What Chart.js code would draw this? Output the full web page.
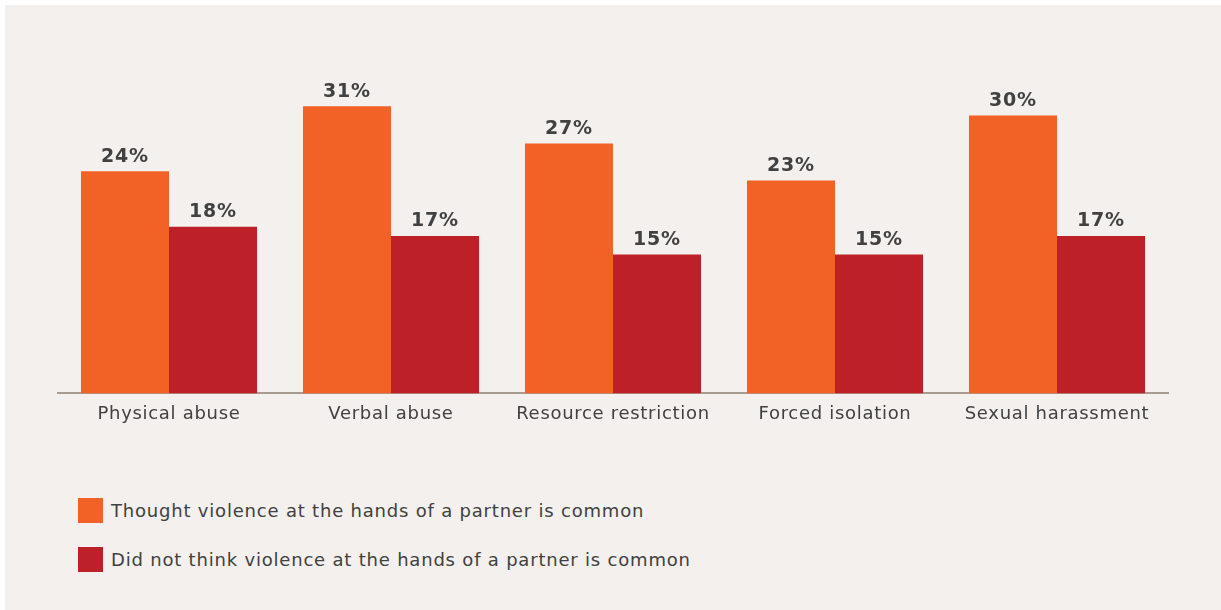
<!DOCTYPE html>
<html>
<head>
<meta charset="utf-8">
<script src="https://cdn.jsdelivr.net/npm/chart.js@4/dist/chart.umd.min.js"></script>
<style>
  html, body { margin: 0; padding: 0; background: #ffffff; }
  #wrap { position: relative; width: 1221px; height: 610px; overflow: hidden; }
  #panel { position: absolute; left: 5px; top: 5px; right: 0; bottom: 0; background: #f3f0ed; }
  #chartBox { position: absolute; left: 0; top: 0; width: 1221px; height: 440px; }
  .leg { position: absolute; left: 78px; height: 25px; display: flex; align-items: center;
         font-family: "DejaVu Sans", sans-serif; font-size: 18px; letter-spacing: 0.8px; color: #414141; white-space: nowrap; }
  .leg span.sw { display: inline-block; width: 25px; height: 25px; margin-right: 8px; }
</style>
</head>
<body>
<div id="wrap">
  <div id="panel"></div>
  <div id="chartBox"><canvas id="c"></canvas></div>
  <div id="legend"></div>
</div>
<script>
const categories = ["Physical abuse", "Verbal abuse", "Resource restriction", "Forced isolation", "Sexual harassment"];
const seriesNames = ["Thought violence at the hands of a partner is common", "Did not think violence at the hands of a partner is common"];
const commonValues = [24, 31, 27, 23, 30];
const notCommonValues = [18, 17, 15, 15, 17];
const seriesColors = ["#f26125", "#be2027"];

// HTML legend
const legendEl = document.getElementById('legend');
seriesNames.forEach((name, i) => {
  const d = document.createElement('div');
  d.className = 'leg';
  d.style.top = (498 + i * 49) + 'px';
  d.innerHTML = '<span class="sw" style="background:' + seriesColors[i] + '"></span>' + name;
  legendEl.appendChild(d);
});

const spacing = {
  id: 'spacing',
  beforeInit(chart) { chart.ctx.letterSpacing = '0.7px'; },
  beforeDraw(chart) { chart.ctx.letterSpacing = '0.7px'; }
};

const valueLabels = {
  id: 'valueLabels',
  afterDatasetsDraw(chart) {
    const ctx = chart.ctx;
    ctx.save();
    ctx.letterSpacing = '0.8px';
    ctx.font = 'bold 19px "DejaVu Sans", sans-serif';
    ctx.fillStyle = '#414141';
    ctx.textAlign = 'center';
    ctx.textBaseline = 'bottom';
    chart.data.datasets.forEach((ds, di) => {
      chart.getDatasetMeta(di).data.forEach((bar, i) => {
        ctx.fillText(ds.data[i] + '%', bar.x, bar.y - 5);
      });
    });
    ctx.restore();
  }
};

new Chart(document.getElementById('c'), {
  type: 'bar',
  data: {
    labels: categories,
    datasets: [
      { label: seriesNames[0], data: commonValues, backgroundColor: seriesColors[0] },
      { label: seriesNames[1], data: notCommonValues, backgroundColor: seriesColors[1] }
    ]
  },
  options: {
    responsive: true,
    maintainAspectRatio: false,
    animation: false,
    layout: { padding: { left: 58, right: 53, top: 23, bottom: 5 } },
    plugins: { legend: { display: false }, tooltip: { enabled: false } },
    datasets: { bar: { barPercentage: 1.0, categoryPercentage: 0.793 } },
    scales: {
      x: {
        grid: { display: false, drawTicks: false },
        border: { display: true, color: '#a89b90', width: 2 },
        ticks: { padding: 10, color: '#414141', font: { family: '"DejaVu Sans", sans-serif', size: 18 } }
      },
      y: { display: false, min: 0, max: 40 }
    }
  },
  plugins: [spacing, valueLabels]
});
</script>
</body>
</html>
